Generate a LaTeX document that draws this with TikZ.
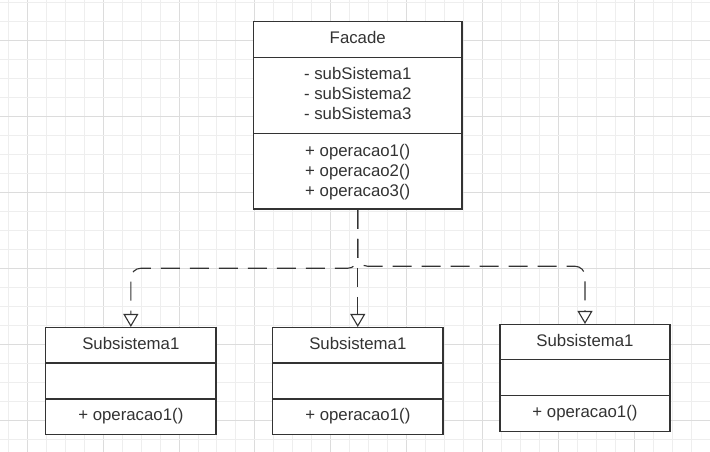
\documentclass[tikz,border=0pt]{standalone}
\usepackage{fontspec}
\newfontfamily\umlfont{Liberation Sans}
\usetikzlibrary{arrows.meta,calc}
\definecolor{ink}{HTML}{333333}
\definecolor{gridminor}{HTML}{EEEEEE}
\definecolor{gridmajor}{HTML}{DCDCDC}
\tikzset{
  umlbox/.style={draw=ink, line width=1.5pt, fill=white, rectangle, inner sep=0pt},
  divider/.style={draw=ink, line width=1.5pt},
  umltext/.style={anchor=base, inner sep=0pt, text=ink, font=\umlfont\fontsize{16.8}{20}\selectfont},
  conn/.style={draw=ink, line width=1.1pt, dash pattern=on 19pt off 10pt,
    -{Triangle[width=15pt,length=13pt,fill=white,line width=1.1pt]}},
}
\begin{document}
\begin{tikzpicture}[x=1pt,y=-1pt]
\useasboundingbox (0,0) rectangle (710,452);
\fill[white] (0,0) rectangle (710,452);
% grid
\foreach \k in {0,...,37}{
  \pgfmathsetmacro{\gx}{8.3+18.97*\k}
  \pgfmathtruncatemacro{\m}{mod(\k,4)}
  \ifnum\m=1 \draw[gridmajor,line width=1pt] (\gx,0) -- (\gx,452);
  \else \draw[gridminor,line width=1pt] (\gx,0) -- (\gx,452); \fi
}
\foreach \k in {0,...,23}{
  \pgfmathsetmacro{\gy}{2.76+18.97*\k}
  \pgfmathtruncatemacro{\m}{mod(\k,4)}
  \ifnum\m=2 \draw[gridmajor,line width=1pt] (0,\gy) -- (710,\gy);
  \else \draw[gridminor,line width=1pt] (0,\gy) -- (710,\gy); \fi
}

% Facade
\node[umlbox, minimum width=208.5pt, minimum height=187.3pt] (facade) at (357.75,115.35) {};
\draw[divider] (253.5,57.3) -- (462,57.3);
\draw[divider] (253.5,133.3) -- (462,133.3);
\node[umltext] (ft) at (357.75,43.3) {Facade};
\node[umltext] (fa1) at (357.75,80.0) {- subSistema1};
\node[umltext] (fa2) at (357.75,99.6) {- subSistema2};
\node[umltext] (fa3) at (357.75,119.3) {- subSistema3};
\node[umltext] (fm1) at (357.75,156.5) {+ operacao1()};
\node[umltext] (fm2) at (357.75,176.2) {+ operacao2()};
\node[umltext] (fm3) at (357.75,196.0) {+ operacao3()};

% Subsistema boxes
\node[umlbox, minimum width=170.3pt, minimum height=106.6pt] (sub1) at (130.85,381.0) {};
\draw[divider] (45.7,363) -- (216,363);
\draw[divider] (45.7,399) -- (216,399);
\node[umltext] (s1t) at (130.85,349.3) {Subsistema1};
\node[umltext] (s1m) at (130.85,420.0) {+ operacao1()};

\node[umlbox, minimum width=170.3pt, minimum height=106.6pt] (sub2) at (357.85,381.0) {};
\draw[divider] (272.7,363) -- (443,363);
\draw[divider] (272.7,399) -- (443,399);
\node[umltext] (s2t) at (357.85,349.3) {Subsistema1};
\node[umltext] (s2m) at (357.85,420.0) {+ operacao1()};

\node[umlbox, minimum width=170pt, minimum height=107pt] (sub3) at (585,378.2) {};
\draw[divider] (500,359.7) -- (670,359.7);
\draw[divider] (500,395.3) -- (670,395.3);
\node[umltext] (s3t) at (585,346.6) {Subsistema1};
\node[umltext] (s3m) at (585,417.0) {+ operacao1()};

% connectors
\draw[conn] (facade.south) -- (facade.south |- sub2.north);
\draw[conn, rounded corners=10pt] (facade.south) |- ([yshift=58.7pt]sub1.north) -- (sub1.north);
\draw[conn, rounded corners=10pt] (facade.south) |- ([yshift=57.7pt]sub3.north) -- (sub3.north);
\end{tikzpicture}
\end{document}
